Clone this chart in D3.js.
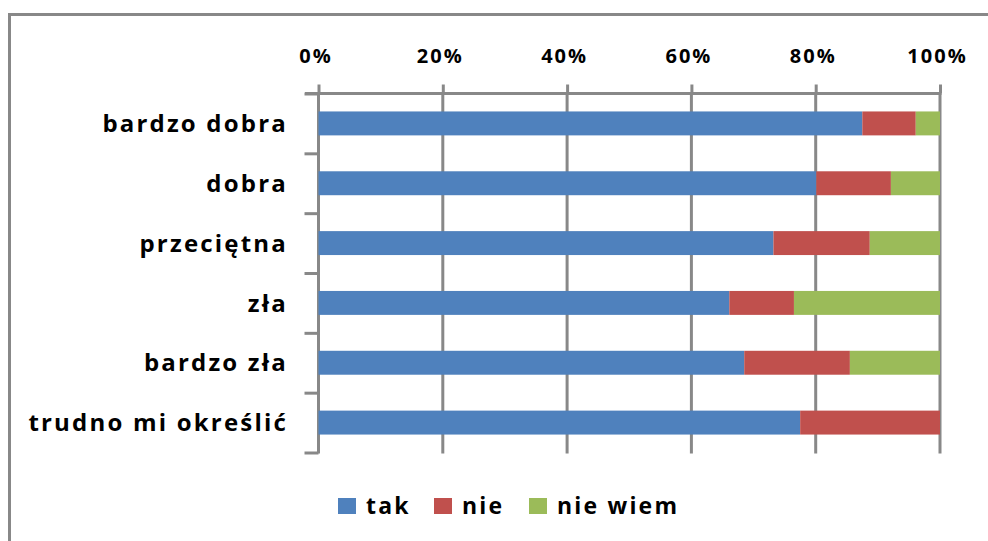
<!DOCTYPE html>
<html>
<head>
<meta charset="utf-8">
<script src="https://cdn.jsdelivr.net/npm/d3@7"></script>
<style>
  html, body { margin: 0; padding: 0; background: #fff; }
  svg text { font-family: "Open Sans", "Noto Sans", sans-serif; font-weight: 700; fill: #000; }
</style>
</head>
<body>
<div id="chart"></div>
<script>
// data (share of answers per rating)
const categories = ["bardzo dobra", "dobra", "przeciętna", "zła", "bardzo zła", "trudno mi określić"];
const seriesNames = ["tak", "nie", "nie wiem"];
const tak     = [0.875, 0.801, 0.732, 0.661, 0.685, 0.775];
const nie     = [0.086, 0.120, 0.155, 0.104, 0.170, 0.225];
const nieWiem = [0.039, 0.079, 0.113, 0.235, 0.145, 0.000];
const xTicks = [0, 0.2, 0.4, 0.6, 0.8, 1.0];
const colors = ["#4F81BD", "#C0504D", "#9BBB59"];

const width = 988, height = 541;
const gridColor = "#888888";

const svg = d3.select("#chart")
    .append("svg")
    .attr("width", width)
    .attr("height", height);

// outer chart border (runs off the right and bottom edge)
svg.append("rect")
    .attr("x", 9.5)
    .attr("y", 14.5)
    .attr("width", 1100)
    .attr("height", 700)
    .style("fill", "none")
    .style("stroke", gridColor)
    .style("stroke-width", 3);

const x = d3.scaleLinear().domain([0, 1]).range([318.5, 940]);
const y = d3.scaleBand()
    .domain(categories)
    .range([93.5, 452.5])
    .paddingInner(0.6)
    .paddingOuter(0.3);
const yEdge = d3.scaleLinear().domain([0, categories.length]).range([93.5, 452.5]);

// gridlines
svg.append("g")
    .selectAll("line")
    .data(xTicks)
    .enter()
    .append("line")
    .attr("x1", d => x(d))
    .attr("x2", d => x(d))
    .attr("y1", 93.5)
    .attr("y2", 453.5)
    .style("stroke", gridColor)
    .style("stroke-width", 3);

// top axis
const xAxis = svg.append("g")
    .attr("transform", "translate(0,93.5)")
    .call(d3.axisTop(x).tickValues(xTicks).tickFormat(d3.format(".0%"))
        .tickSizeInner(9).tickSizeOuter(0).tickPadding(22));
xAxis.select(".domain").remove();
xAxis.selectAll(".tick line").style("stroke", gridColor).style("stroke-width", 3);
xAxis.selectAll(".tick text")
    .style("font-size", "20px")
    .style("letter-spacing", "2px")
    .attr("dx", "-3px");
svg.append("line")
    .attr("x1", 305).attr("x2", 941.5)
    .attr("y1", 93.5).attr("y2", 93.5)
    .style("stroke", gridColor)
    .style("stroke-width", 3);

// left axis ticks at band edges
const yAxis = svg.append("g")
    .attr("transform", "translate(318.5,0)")
    .call(d3.axisLeft(yEdge).ticks(categories.length).tickFormat("")
        .tickSizeInner(14).tickSizeOuter(0));
yAxis.select(".domain").remove();
yAxis.selectAll(".tick line").style("stroke", gridColor).style("stroke-width", 3);

// category labels
svg.append("g")
    .selectAll("text")
    .data(categories)
    .enter()
    .append("text")
    .attr("x", 288)
    .attr("y", d => y(d) + y.bandwidth() / 2)
    .attr("dy", "0.36em")
    .style("text-anchor", "end")
    .style("font-size", "24px")
    .style("letter-spacing", "2.2px")
    .text(d => d);

// stacked bars
const rows = categories.map((c, i) => ({ cat: c, tak: tak[i], nie: nie[i], "nie wiem": nieWiem[i] }));
const stacked = d3.stack().keys(seriesNames)(rows);

svg.append("g")
    .selectAll("g")
    .data(stacked)
    .enter()
    .append("g")
    .style("fill", (d, i) => colors[i])
    .selectAll("rect")
    .data(d => d)
    .enter()
    .append("rect")
    .attr("x", d => x(d[0]))
    .attr("width", d => Math.max(0, x(Math.min(d[1], 1)) - x(d[0])))
    .attr("y", d => y(d.data.cat))
    .attr("height", y.bandwidth());

// legend
const legendX = [338, 434, 529];
const legend = svg.append("g")
    .selectAll("g")
    .data(seriesNames)
    .enter()
    .append("g")
    .attr("transform", (d, i) => `translate(${legendX[i]},498)`);
legend.append("rect")
    .attr("width", 18)
    .attr("height", 16)
    .style("fill", (d, i) => colors[i]);
legend.append("text")
    .attr("x", 28)
    .attr("y", 16)
    .style("font-size", "23px")
    .style("letter-spacing", "2.2px")
    .text(d => d);
</script>
</body>
</html>
